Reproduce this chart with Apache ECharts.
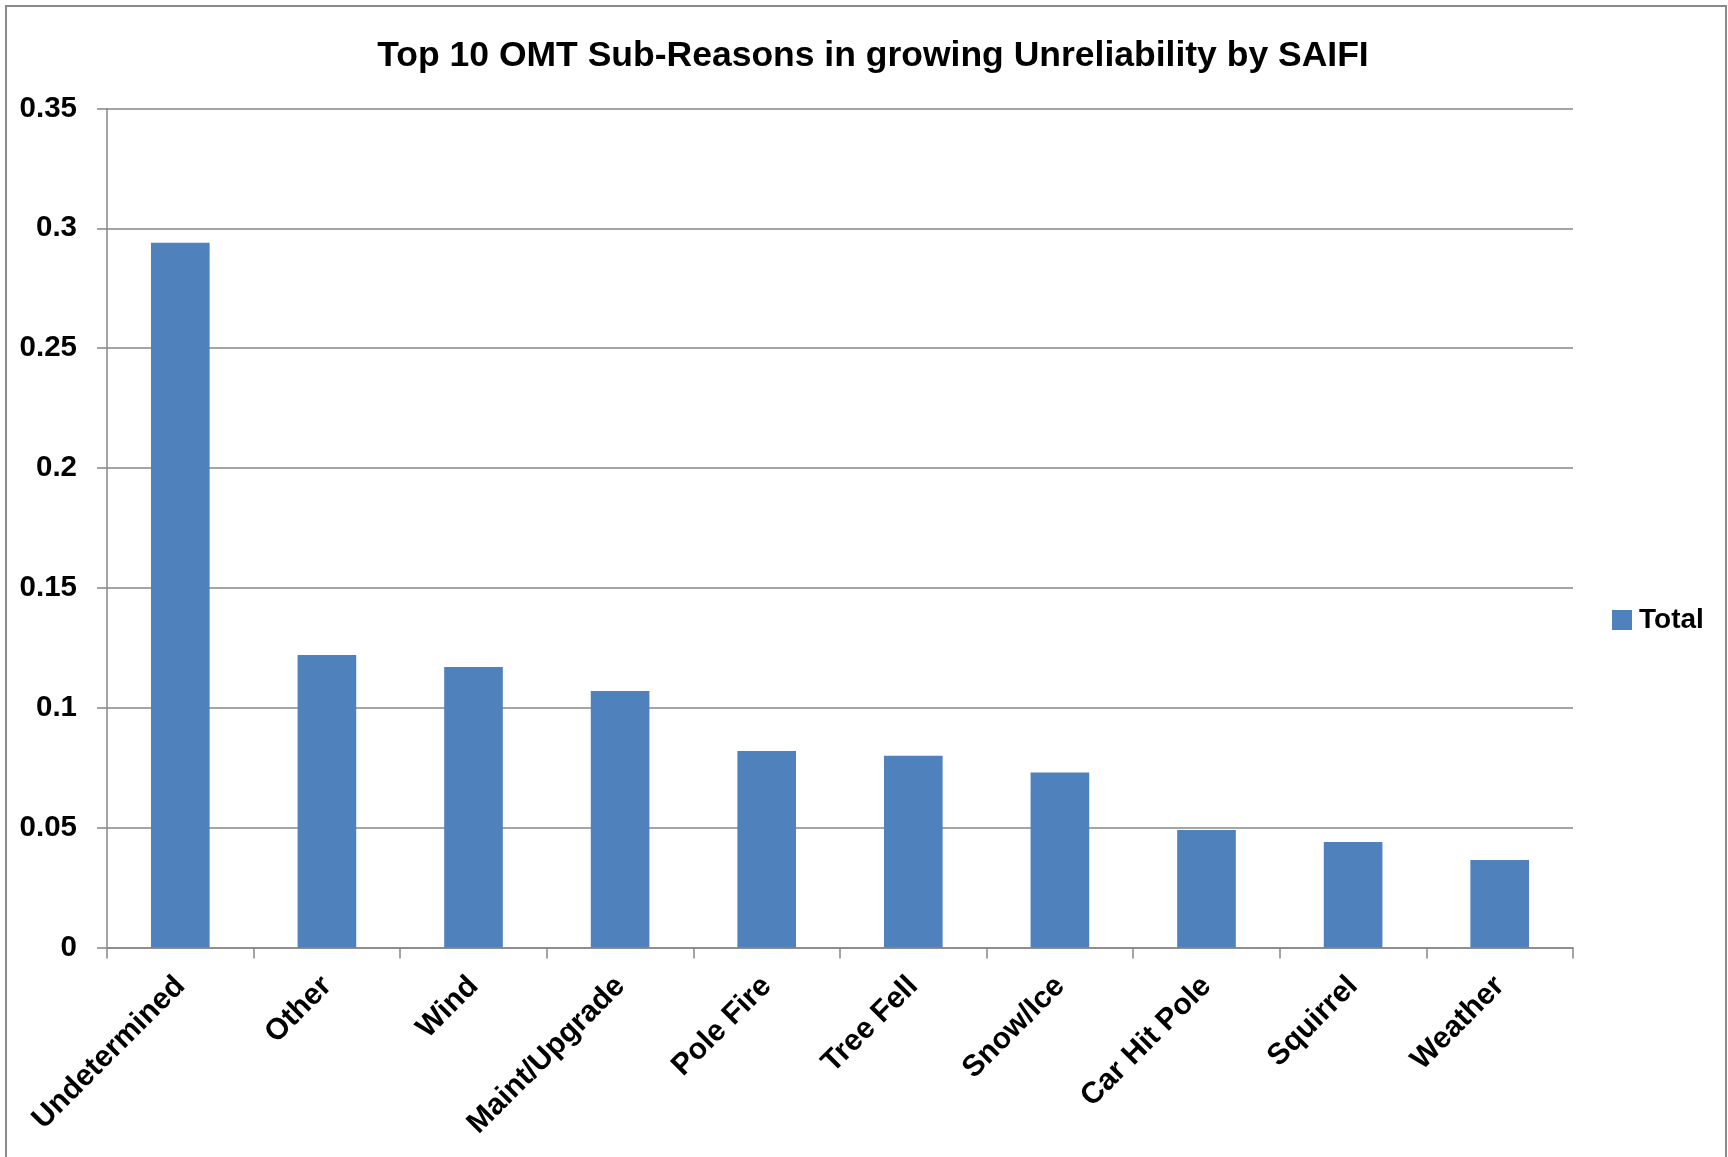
<!DOCTYPE html>
<html>
<head>
<meta charset="utf-8">
<script src="https://cdn.jsdelivr.net/npm/echarts@6/dist/echarts.min.js"></script>
<style>
html,body{margin:0;padding:0;background:#fff;}
#chart{width:1728px;height:1157px;}
</style>
</head>
<body>
<div id="chart"></div>
<script>
const categories = ["Undetermined","Other","Wind","Maint/Upgrade","Pole Fire","Tree Fell","Snow/Ice","Car Hit Pole","Squirrel","Weather"];
const totalValues = [0.294, 0.122, 0.117, 0.107, 0.082, 0.080, 0.073, 0.049, 0.044, 0.0365];
const yTicks = {min: 0, max: 0.35, interval: 0.05};
const titleText = "Top 10 OMT Sub-Reasons in growing Unreliability by SAIFI";
const seriesName = "Total";

const FONT = "'Liberation Sans', Arial, sans-serif";
const chart = echarts.init(document.getElementById('chart'), null, {renderer: 'canvas'});
chart.setOption({
  animation: false,
  backgroundColor: '#fff',
  title: {
    text: titleText,
    left: 868, top: 51, textAlign: 'center', textVerticalAlign: 'middle',
    textStyle: {fontFamily: FONT, fontWeight: 'bold', fontSize: 35.5, color: '#000'}
  },
  legend: {
    data: [seriesName],
    left: 1612, top: 606, padding: 0,
    itemWidth: 20, itemHeight: 20, itemGap: 10,
    icon: 'rect',
    textStyle: {fontFamily: FONT, fontWeight: 'bold', fontSize: 28, color: '#000', padding: [0,0,0,2]}
  },
  grid: {left: 107, top: 108.5, width: 1466, height: 839, containLabel: false},
  xAxis: {
    type: 'category',
    data: categories,
    boundaryGap: true,
    axisLine: {lineStyle: {color: '#878787', width: 1.5}},
    axisTick: {show: true, length: 11, alignWithLabel: false, interval: 0, lineStyle: {color: '#878787', width: 1.5}},
    axisLabel: {
      interval: 0, rotate: 45, margin: 34,
      verticalAlign: 'middle',
      fontFamily: FONT, fontWeight: 'bold', fontSize: 30, color: '#000'
    },
    splitLine: {show: false}
  },
  yAxis: {
    type: 'value',
    min: yTicks.min, max: yTicks.max, interval: yTicks.interval,
    axisLine: {show: true, lineStyle: {color: '#878787', width: 1.5}},
    axisTick: {show: true, inside: false, length: 10, lineStyle: {color: '#878787', width: 1.5}},
    axisLabel: {margin: 30, fontFamily: FONT, fontWeight: 'bold', fontSize: 29.5, color: '#000'},
    splitLine: {show: true, lineStyle: {color: '#878787', width: 1.5}}
  },
  series: [{
    name: seriesName,
    type: 'bar',
    data: totalValues,
    barWidth: '40%',
    itemStyle: {color: '#4F81BD'}
  }],
  graphic: [{
    type: 'rect', silent: true, z: 100,
    shape: {x: 6, y: 6, width: 1720, height: 1200},
    style: {fill: 'none', stroke: '#8a8a8a', lineWidth: 2}
  }]
});
</script>
</body>
</html>
